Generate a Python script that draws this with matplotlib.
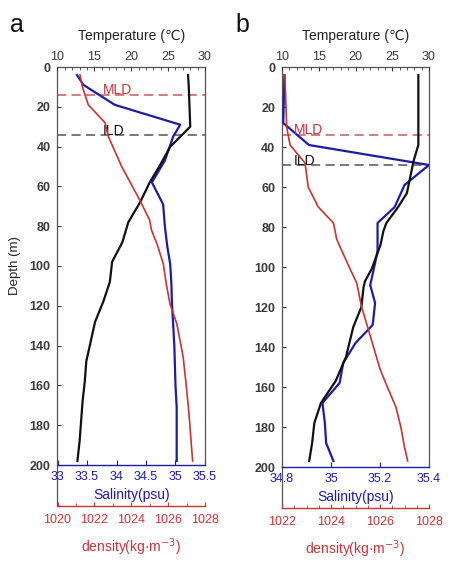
import matplotlib
matplotlib.use("Agg")
import matplotlib.pyplot as plt
from matplotlib.ticker import MultipleLocator
import numpy as np

plt.rcParams['font.family'] = ['Liberation Sans', 'DejaVu Sans']

# ---------------- Data ----------------
# Panel a
a_temp_depth = [4, 10, 20, 30, 40, 50, 58, 68, 78, 88, 98, 108, 118, 128, 138, 148, 158, 168, 178, 188, 198]
a_temp = [27.7, 27.8, 27.9, 28.0, 25.3, 23.8, 22.5, 21.2, 19.6, 18.8, 17.4, 17.1, 16.2, 15.1, 14.5, 13.9, 13.7, 13.4, 13.2, 13.0, 12.7]

a_sal_depth = [4, 9, 19, 29, 35, 47, 58, 69, 80, 90, 99, 109, 119, 129, 140, 150, 160, 171, 180, 190, 198]
a_sal = [33.33, 33.44, 33.97, 35.08, 34.96, 34.82, 34.60, 34.79, 34.82, 34.86, 34.91, 34.93, 34.94, 34.96, 34.98, 34.99, 35.00, 35.02, 35.02, 35.02, 35.02]

a_den_depth = [4, 10, 19, 28, 35, 50, 67, 77, 82, 89, 99, 109, 119, 129, 140, 146, 160, 171, 180, 190, 198]
a_den = [1021.22, 1021.35, 1021.67, 1022.58, 1022.76, 1023.48, 1024.47, 1025.0, 1025.1, 1025.4, 1025.74, 1025.9, 1026.1, 1026.47, 1026.7, 1026.82, 1026.98, 1027.1, 1027.18, 1027.26, 1027.33]

a_mld, a_ild = 14, 34

# Panel b
b_temp_depth = [4, 20, 39, 47, 63, 70, 78, 82, 89, 101, 107, 110, 120, 130, 145, 157, 168, 178, 188, 197]
b_temp = [28.55, 28.55, 28.55, 27.9, 27.0, 25.8, 24.2, 23.8, 23.4, 22.2, 21.3, 21.1, 20.8, 19.7, 18.7, 17.3, 15.3, 14.4, 14.1, 13.7]

b_sal_depth = [4, 28, 39, 49, 59, 70, 78, 87, 92, 98, 109, 118, 129, 138, 148, 158, 168, 178, 188, 197]
b_sal = [34.81, 34.805, 34.91, 35.40, 35.30, 35.26, 35.19, 35.19, 35.19, 35.18, 35.16, 35.18, 35.17, 35.10, 35.05, 35.035, 34.965, 34.975, 34.98, 35.01]

b_den_depth = [4, 30, 39, 48, 60, 70, 78, 86, 90, 101, 108, 120, 131, 151, 160, 170, 180, 190, 197]
b_den = [1022.12, 1022.19, 1022.33, 1022.94, 1023.07, 1023.48, 1024.1, 1024.23, 1024.37, 1024.78, 1025.05, 1025.25, 1025.52, 1026.0, 1026.3, 1026.65, 1026.85, 1027.0, 1027.13]

b_mld, b_ild = 34, 49

temp_lim = (10, 30)
temp_ticks = [10, 15, 20, 25, 30]
depth_ticks = [0, 20, 40, 60, 80, 100, 120, 140, 160, 180, 200]

a_sal_lim, a_sal_ticks = (33, 35.5), [33, 33.5, 34, 34.5, 35, 35.5]
a_den_lim, a_den_ticks = (1020, 1028), [1020, 1022, 1024, 1026, 1028]
b_sal_lim, b_sal_ticks = (34.8, 35.4), [34.8, 35.0, 35.2, 35.4]
b_den_lim, b_den_ticks = (1022, 1028), [1022, 1024, 1026, 1028]

# ---------------- Style ----------------
C_T = '#111111'
C_S = '#1c1ca8'
C_D = '#c83434'
C_TXT = '#3a3a3a'
C_SP = '#555555'
FS = 9
LFS = 10

fig = plt.figure(figsize=(4.56, 5.64), dpi=100)
W, H = 456.0, 564.0


def panel(rect, tdep, tval, sdep, sval, ddep, dval, mld, ild, slim, sticks,
          dlim, dticks, dminor, label, letter_xy, text_x, depth_label):
    ax = fig.add_axes(rect)
    ax.set_ylim(200, 0)
    ax.set_xlim(*slim)
    ax.set_yticks(depth_ticks)
    ax.set_yticklabels([str(d) for d in depth_ticks])
    # salinity on main axes (bottom)
    ax.plot(sval, sdep, color=C_S, lw=1.6, zorder=3)
    ax.set_xticks(sticks)
    ax.set_xticklabels([('%g' % s) for s in sticks])
    ax.tick_params(axis='x', which='both', direction='in', colors=C_S, labelsize=FS, pad=4)
    ax.tick_params(axis='x', which='major', length=3.5)
    ax.tick_params(axis='y', direction='in', length=3, colors=C_TXT, labelsize=FS, pad=5, right=False)
    for t in ax.get_yticklabels():
        t.set_fontweight('semibold')
    for s in ['left', 'right', 'top']:
        ax.spines[s].set_color(C_SP)
        ax.spines[s].set_linewidth(0.9)
    ax.spines['bottom'].set_color(C_S)
    ax.spines['bottom'].set_linewidth(1.0)
    ax.set_xlabel('Salinity(psu)', color=C_S, fontsize=LFS, labelpad=4)
    if depth_label:
        ax.set_ylabel('Depth (m)', color='#222222', fontsize=9.5, labelpad=6)
    ax.axhline(mld, color='#c85a5a', lw=1.1, ls=(0, (6, 3.5)), zorder=2)
    ax.axhline(ild, color='#555555', lw=1.1, ls=(0, (6, 3.5)), zorder=2)

    # temperature (top)
    axT = ax.twiny()
    axT.set_xlim(*temp_lim)
    axT.set_ylim(200, 0)
    axT.plot(tval, tdep, color=C_T, lw=1.6, zorder=3)
    axT.set_xticks(temp_ticks)
    axT.xaxis.set_minor_locator(MultipleLocator(1))
    axT.tick_params(axis='x', which='both', direction='in', colors=C_TXT, labelsize=FS, pad=3)
    axT.tick_params(axis='x', which='major', length=3)
    axT.tick_params(axis='x', which='minor', length=1.8)
    axT.set_xlabel('Temperature (\u2103)', color='#222222', fontsize=LFS, labelpad=8)
    for s in axT.spines.values():
        s.set_visible(False)
    axT.text(text_x, mld - 2.5, 'MLD', color=C_D, fontsize=LFS, va='center', ha='left')
    axT.text(text_x, ild - 2.0, 'ILD', color='#111111', fontsize=LFS, va='center', ha='left')

    # density (offset bottom axis)
    axD = ax.twiny()
    axD.set_xlim(*dlim)
    axD.set_ylim(200, 0)
    axD.plot(dval, ddep, color=C_D, lw=1.2, zorder=3)
    axD.xaxis.set_ticks_position('bottom')
    axD.xaxis.set_label_position('bottom')
    axD.spines['bottom'].set_position(('outward', 29.5))
    for s in ['top', 'left', 'right']:
        axD.spines[s].set_visible(False)
    axD.spines['bottom'].set_color(C_D)
    axD.spines['bottom'].set_linewidth(1.0)
    axD.set_xticks(dticks)
    axD.xaxis.set_minor_locator(MultipleLocator(dminor))
    axD.tick_params(axis='x', which='both', direction='in', colors=C_D, labelsize=FS, pad=6)
    axD.tick_params(axis='x', which='major', length=3)
    axD.tick_params(axis='x', which='minor', length=2)
    axD.set_xlabel('density(kg\u00b7m$^{-3}$)', color=C_D, fontsize=LFS, labelpad=7)
    # left spine extension down to the density axis
    ax.plot([0, 0], [0, -41.0 / (rect[3] * H)], transform=ax.transAxes, color=C_SP,
            lw=0.9, clip_on=False)

    fig.text(letter_xy[0], letter_xy[1], label, fontsize=18, color='#111111', ha='left', va='baseline')
    return ax


panel([57.5 / W, 1 - 465 / H, 147.5 / W, 398 / H], a_temp_depth, a_temp, a_sal_depth, a_sal,
      a_den_depth, a_den, a_mld, a_ild, a_sal_lim, a_sal_ticks,
      a_den_lim, a_den_ticks, 1, 'a', (10 / W, 1 - 32 / H), 16.2, True)

panel([282 / W, 1 - 467 / H, 147 / W, 400 / H], b_temp_depth, b_temp, b_sal_depth, b_sal,
      b_den_depth, b_den, b_mld, b_ild, b_sal_lim, b_sal_ticks,
      b_den_lim, b_den_ticks, 0.5, 'b', (235 / W, 1 - 32 / H), 11.6, False)

fig.savefig('out.png', dpi=100)
